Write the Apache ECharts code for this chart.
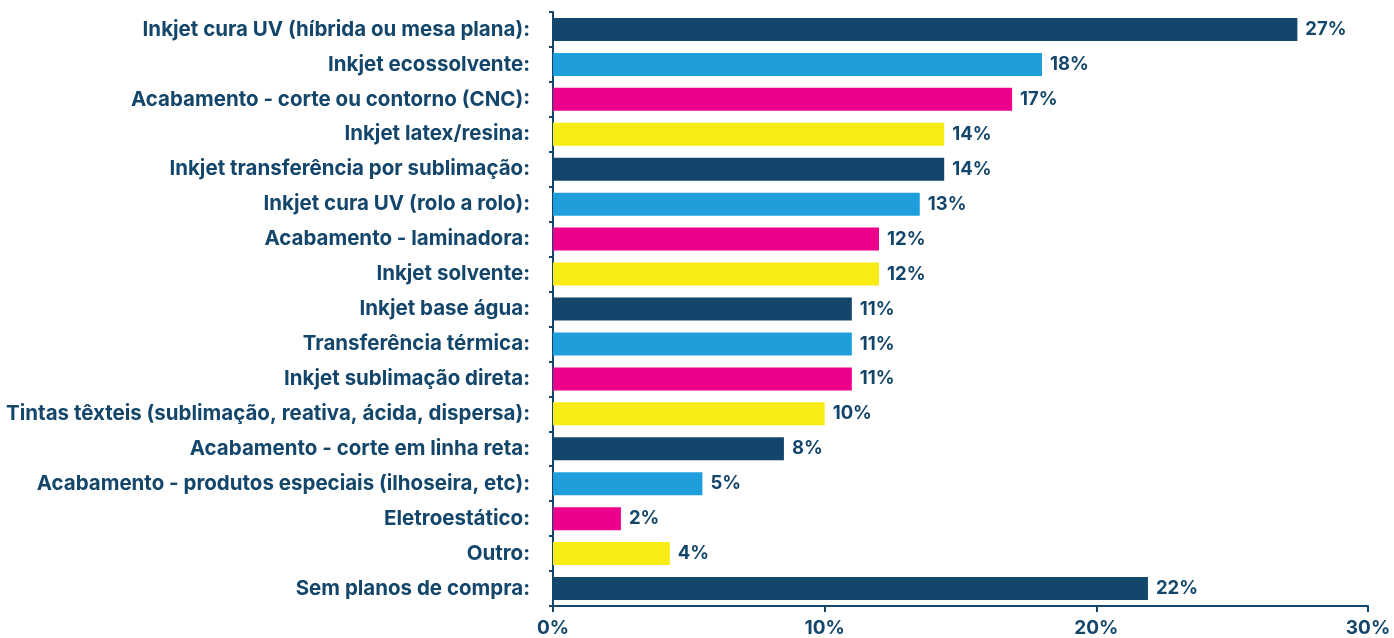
<!DOCTYPE html>
<html lang="pt-BR">
<head>
  <meta charset="utf-8">
  <style>
    html, body { margin: 0; padding: 0; width: 100%; height: 100%; background: #fff; }
    #container { width: 1394px; height: 638px; }
  </style>
  <script src="https://cdn.jsdelivr.net/npm/echarts@6/dist/echarts.min.js"></script>
</head>
<body>
  <div id="container"></div>
  <script>
    // categorias de cima para baixo
    var categories = [
      'Inkjet cura UV (híbrida ou mesa plana):',
      'Inkjet ecossolvente:',
      'Acabamento - corte ou contorno (CNC):',
      'Inkjet latex/resina:',
      'Inkjet transferência por sublimação:',
      'Inkjet cura UV (rolo a rolo):',
      'Acabamento - laminadora:',
      'Inkjet solvente:',
      'Inkjet base água:',
      'Transferência térmica:',
      'Inkjet sublimação direta:',
      'Tintas têxteis (sublimação, reativa, ácida, dispersa):',
      'Acabamento - corte em linha reta:',
      'Acabamento - produtos especiais (ilhoseira, etc):',
      'Eletroestático:',
      'Outro:',
      'Sem planos de compra:'
    ];
    var values = [27.4, 18, 16.9, 14.4, 14.4, 13.5, 12, 12, 11, 11, 11, 10, 8.5, 5.5, 2.5, 4.3, 21.9];
    var valueLabels = ['27%', '18%', '17%', '14%', '14%', '13%', '12%', '12%', '11%', '11%', '11%', '10%', '8%', '5%', '2%', '4%', '22%'];
    var palette = ['#13466a', '#1e9fdb', '#ec008c', '#f9ec14'];
    var xTicks = [0, 10, 20, 30];

    var navy = '#13466a';
    var font = 'Inter';

    var dom = document.getElementById('container');
    var myChart = echarts.init(dom, null, { renderer: 'canvas' });

    var option = {
      animation: false,
      grid: { left: 553, right: 26, top: 12, bottom: 31, containLabel: false },
      xAxis: {
        type: 'value',
        min: xTicks[0],
        max: xTicks[xTicks.length - 1],
        interval: 10,
        axisLine: { show: true, lineStyle: { color: navy, width: 2 } },
        axisTick: { show: true, length: 6, lineStyle: { color: navy, width: 2 } },
        splitLine: { show: false },
        axisLabel: {
          formatter: '{value}%',
          color: navy,
          fontFamily: font,
          fontWeight: 'bold',
          fontSize: 19,
          margin: 13
        }
      },
      yAxis: {
        type: 'category',
        inverse: true,
        data: categories,
        axisLine: { show: true, lineStyle: { color: navy, width: 2 } },
        axisTick: { show: true, length: 4, lineStyle: { color: navy, width: 2 } },
        axisLabel: {
          color: navy,
          fontFamily: font,
          fontWeight: 'bold',
          fontSize: 20.5,
          margin: 23
        }
      },
      series: [{
        type: 'bar',
        barWidth: 23,
        data: values.map(function (v, i) {
          return { value: v, itemStyle: { color: palette[i % 4] } };
        }),
        label: {
          show: true,
          position: 'right',
          distance: 8,
          color: navy,
          fontFamily: font,
          fontWeight: 'bold',
          fontSize: 18.5,
          formatter: function (p) { return valueLabels[p.dataIndex]; }
        }
      }]
    };
    myChart.setOption(option);
  </script>
</body>
</html>
